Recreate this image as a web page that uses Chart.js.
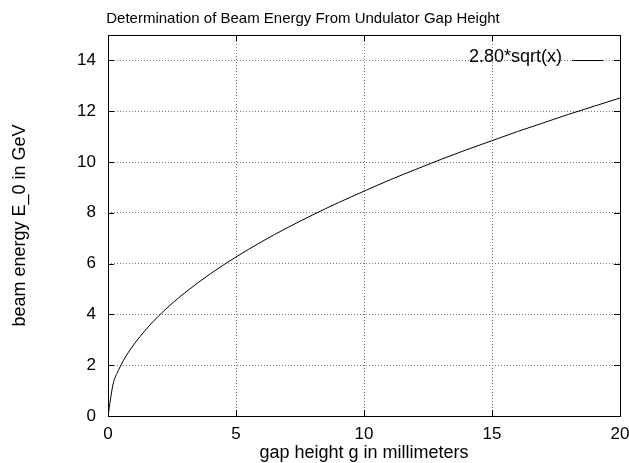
<!DOCTYPE html>
<html>
<head>
<meta charset="utf-8">
<script src="https://cdn.jsdelivr.net/npm/chart.js@4/dist/chart.umd.min.js"></script>
<style>
  html, body { margin: 0; padding: 0; background: #fff; }
  #wrap { width: 629px; height: 463px; }
</style>
</head>
<body>
<div id="wrap"><canvas id="myChart" width="629" height="463"></canvas></div>
<script>
// values (gap height in mm -> beam energy in GeV)
var gapMm = [0, 0.2, 0.4, 0.6, 0.8, 1, 1.5, 2, 2.5, 3, 4, 5, 6, 7, 8, 9, 10, 11, 12, 13, 14, 15, 16, 17, 18, 19, 20];
var energyGeV = [0, 1.26, 1.78, 2.18, 2.51, 2.80, 3.43, 3.96, 4.43, 4.85, 5.60, 6.26, 6.86, 7.41, 7.92, 8.40, 8.85, 9.29, 9.70, 10.10, 10.48, 10.84, 11.20, 11.54, 11.88, 12.20, 12.52];
var seriesName = '2.80*sqrt(x)';
var xTicks = [0, 5, 10, 15, 20];
var yTicks = [0, 2, 4, 6, 8, 10, 12, 14];

var FONT = 'Liberation Sans, Arial, Helvetica, sans-serif';

// title, legend, border and inward tick marks drawn by hand, gnuplot style
var gnuplotBits = {
  id: 'gnuplotBits',
  afterDraw: function (chart) {
    var ctx = chart.ctx, a = chart.chartArea;
    var xs = chart.scales.x, ys = chart.scales.y;
    ctx.save();
    ctx.fillStyle = '#000';
    ctx.font = '15px ' + FONT;
    ctx.textAlign = 'center';
    ctx.textBaseline = 'alphabetic';
    ctx.fillText('Determination of Beam Energy From Undulator Gap Height', 303, 23);

    // legend entry, top right inside the plot
    var ly = a.top + 25;
    ctx.font = '18px ' + FONT;
    ctx.textAlign = 'right';
    ctx.textBaseline = 'middle';
    ctx.fillText(seriesName, a.right - 58, ly - 3);
    ctx.strokeStyle = '#000';
    ctx.lineWidth = 1;
    ctx.beginPath();
    ctx.moveTo(a.right - 48, ly + 0.5);
    ctx.lineTo(a.right - 17, ly + 0.5);
    ctx.stroke();

    // inward ticks on all four sides
    ctx.beginPath();
    xTicks.forEach(function (v) {
      var px = Math.round(xs.getPixelForValue(v)) + 0.5;
      ctx.moveTo(px, a.bottom); ctx.lineTo(px, a.bottom - 6);
      ctx.moveTo(px, a.top); ctx.lineTo(px, a.top + 6);
    });
    yTicks.forEach(function (v) {
      var py = Math.round(ys.getPixelForValue(v)) + 0.5;
      ctx.moveTo(a.left, py); ctx.lineTo(a.left + 6, py);
      ctx.moveTo(a.right, py); ctx.lineTo(a.right - 6, py);
    });
    ctx.stroke();

    // solid border
    ctx.strokeRect(Math.round(a.left) + 0.5, Math.round(a.top) + 0.5,
      Math.round(a.right - a.left), Math.round(a.bottom - a.top));
    ctx.restore();
  }
};

new Chart(document.getElementById('myChart'), {
  type: 'line',
  data: {
    datasets: [{
      label: seriesName,
      data: gapMm.map(function (g, i) { return { x: g, y: energyGeV[i] }; }),
      borderColor: '#000',
      borderWidth: 1,
      pointRadius: 0,
      cubicInterpolationMode: 'monotone',
      fill: false
    }]
  },
  options: {
    responsive: false,
    animation: false,
    layout: { padding: { top: 35, right: 9, left: 0, bottom: 0 } },
    plugins: {
      legend: { display: false },
      title: { display: false },
      tooltip: { enabled: false }
    },
    scales: {
      x: {
        type: 'linear',
        min: 0, max: 20,
        afterBuildTicks: function (s) { s.ticks = xTicks.map(function (v) { return { value: v }; }); },
        afterFit: function (s) { s.height = 47; s.paddingRight = 0; s.paddingLeft = 0; },
        grid: { color: '#777', lineWidth: 1, drawTicks: false },
        border: { display: false, dash: [1, 2] },
        ticks: { color: '#000', font: { family: FONT, size: 17 }, padding: 8, maxRotation: 0 },
        title: {
          display: true, text: 'gap height g in millimeters', color: '#000',
          font: { family: FONT, size: 18 }, padding: { top: 0, bottom: -1 }
        }
      },
      y: {
        type: 'linear',
        min: 0, max: 15,
        afterBuildTicks: function (s) { s.ticks = yTicks.map(function (v) { return { value: v }; }); },
        afterFit: function (s) { s.width = 108; },
        grid: { color: '#777', lineWidth: 1, drawTicks: false },
        border: { display: false, dash: [1, 2] },
        ticks: { color: '#000', font: { family: FONT, size: 17 }, padding: 12 },
        title: {
          display: true, text: 'beam energy E_0 in GeV', color: '#000',
          font: { family: FONT, size: 18 }, padding: { top: 9, bottom: 0 }
        }
      }
    }
  },
  plugins: [gnuplotBits]
});
</script>
</body>
</html>
